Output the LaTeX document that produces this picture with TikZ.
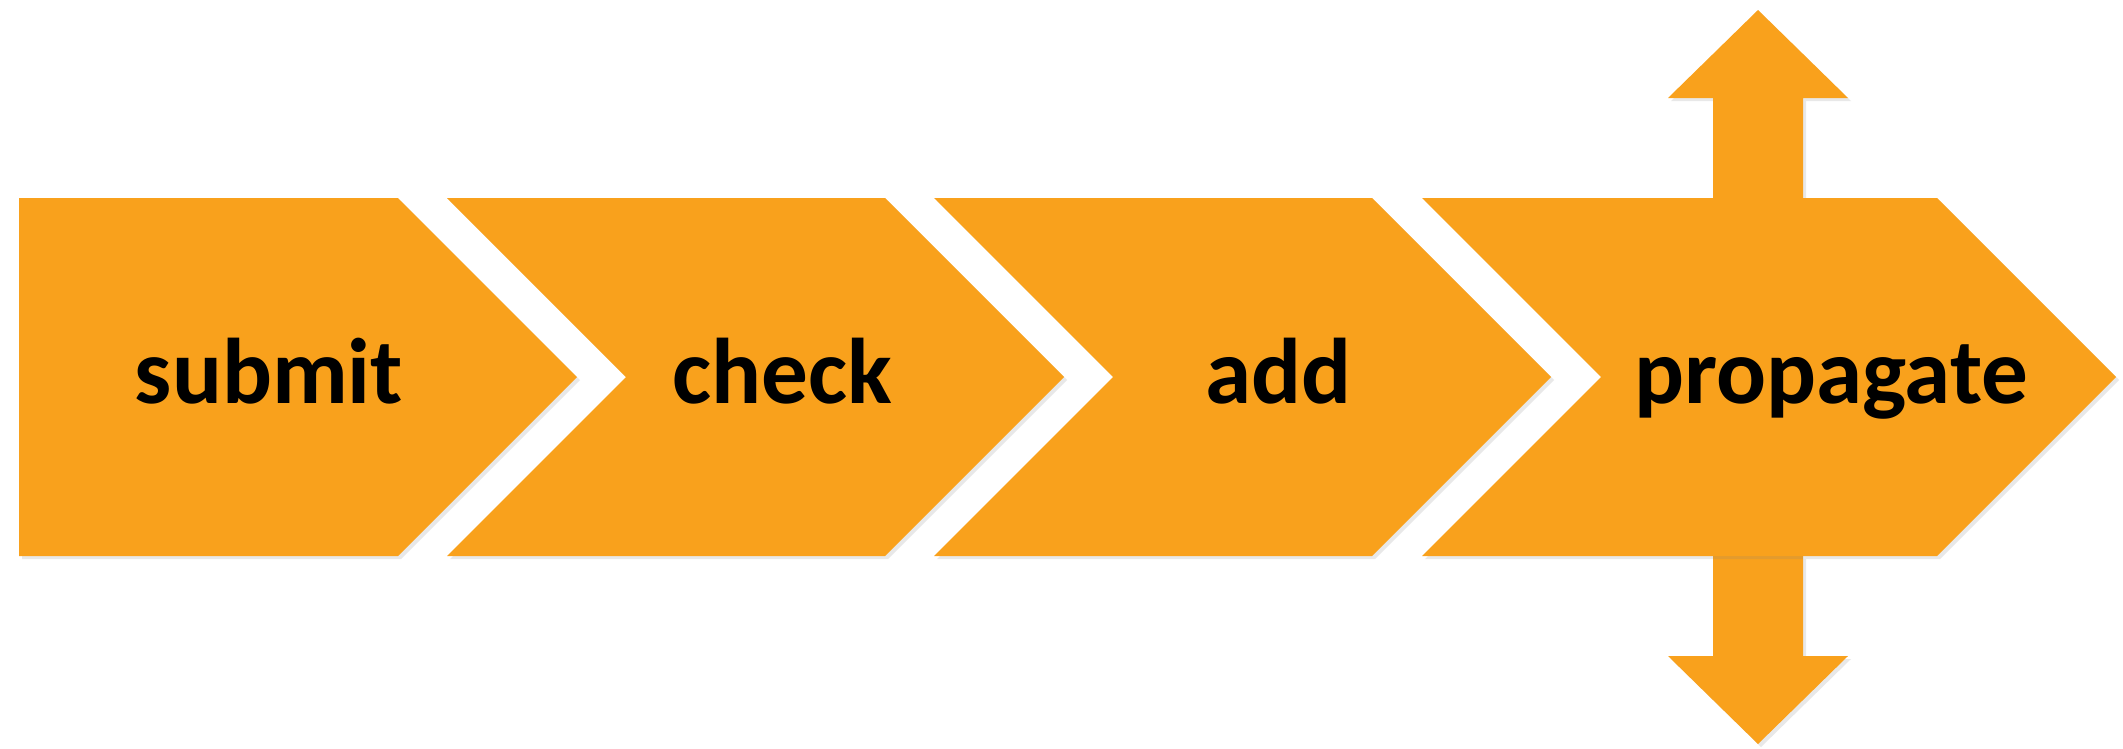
\documentclass[tikz,border=0pt]{standalone}
\usepackage{fontspec}
\setmainfont{Carlito}
\usepackage{xcolor}
\usetikzlibrary{shadows}
\definecolor{chevorange}{RGB}{249,161,28}
\newcommand{\stagefont}{\fontsize{26.5}{30}\selectfont\bfseries}

\begin{document}
\begin{tikzpicture}[x=0.01cm,y=-0.01cm,
            stage/.style={fill=chevorange, drop shadow={shadow xshift=0.03cm, shadow yshift=-0.03cm, opacity=0.18}},
            stagetext/.style={anchor=base, inner sep=0pt, font=\stagefont, text=black}]
            \useasboundingbox (0,0) rectangle (2123,748);

            % up and down arrows
            \fill[stage] (1713,198)--(1713,98)--(1668,98)--(1758,10)--(1848,98)--(1803,98)--(1803,198)--cycle;
            \fill[stage] (1713,556)--(1713,656)--(1668,656)--(1758,744)--(1848,656)--(1803,656)--(1803,556)--cycle;

            % chevrons
            \fill[stage] (19,198)--(398,198)--(577,377)--(398,556)--(19,556)--cycle;
            \fill[stage] (447,198)--(885,198)--(1064,377)--(885,556)--(447,556)--(626,377)--cycle;
            \fill[stage] (934,198)--(1372,198)--(1551,377)--(1372,556)--(934,556)--(1113,377)--cycle;
            \fill[stage] (1422,198)--(1937,198)--(2116,377)--(1937,556)--(1422,556)--(1601,377)--cycle;

            % labels
            \node[stagetext] (submit) at (269,403) {submit};
            \node[stagetext] (check) at (782,403) {check};
            \node[stagetext] (add) at (1278,403) {add};
            \node[stagetext] (propagate) at (1831,403) {propagate};
        \end{tikzpicture}
\end{document}
